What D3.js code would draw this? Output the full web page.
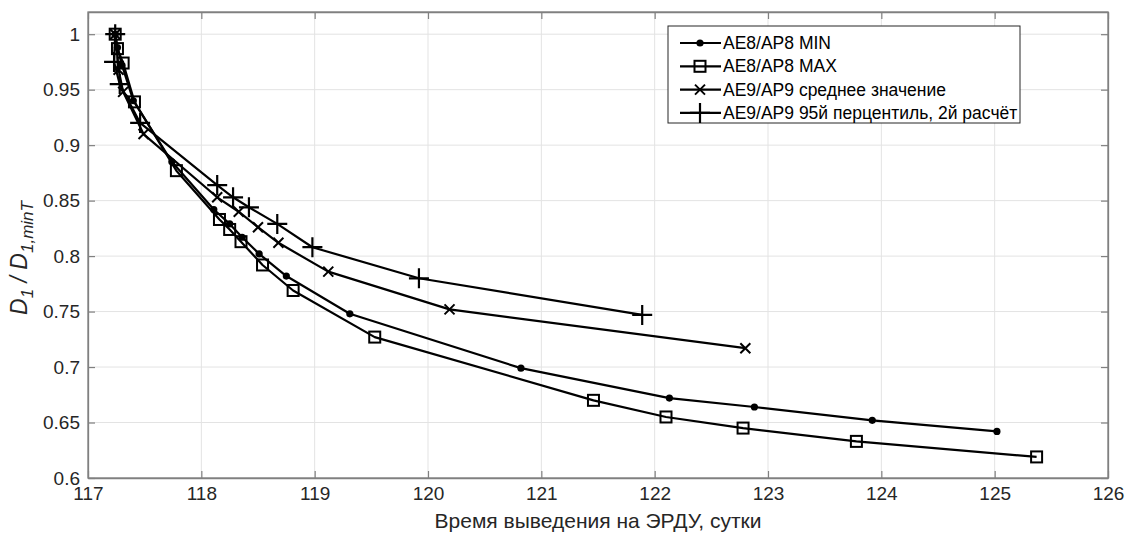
<!DOCTYPE html>
<html>
<head>
<meta charset="utf-8">
<script src="https://cdn.jsdelivr.net/npm/d3@7"></script>
<style>
  body { margin: 0; background: #fff; }
  svg { display: block; font-family: Arial, "Liberation Sans", sans-serif; }
</style>
</head>
<body>
<svg id="chart"></svg>
<script>
// series (x: days, y: D1/D1,minT)
var minX = [117.24, 117.26, 117.30, 117.40, 117.74, 118.11, 118.25, 118.36, 118.51, 118.75, 119.31, 120.82, 122.13, 122.88, 123.92, 125.02];
var minY = [1.0, 0.988, 0.972, 0.940, 0.885, 0.842, 0.829, 0.817, 0.802, 0.782, 0.748, 0.699, 0.672, 0.664, 0.652, 0.642];

var maxX = [117.24, 117.26, 117.31, 117.41, 117.78, 118.16, 118.25, 118.35, 118.54, 118.81, 119.53, 121.46, 122.10, 122.78, 123.78, 125.37];
var maxY = [1.0, 0.987, 0.974, 0.939, 0.877, 0.833, 0.824, 0.813, 0.792, 0.769, 0.727, 0.670, 0.655, 0.645, 0.633, 0.619];

var meanX = [117.24, 117.27, 117.31, 117.49, 118.14, 118.33, 118.50, 118.68, 119.12, 120.19, 122.80];
var meanY = [1.0, 0.968, 0.948, 0.910, 0.853, 0.840, 0.826, 0.812, 0.786, 0.752, 0.717];

var p95X = [117.24, 117.23, 117.28, 117.46, 118.14, 118.28, 118.42, 118.67, 118.98, 119.92, 121.89];
var p95Y = [1.0, 0.975, 0.955, 0.920, 0.864, 0.853, 0.844, 0.829, 0.808, 0.780, 0.747];

var xTicks = [117, 118, 119, 120, 121, 122, 123, 124, 125, 126];
var yTicks = [0.6, 0.65, 0.7, 0.75, 0.8, 0.85, 0.9, 0.95, 1];

var legendLabels = ["AE8/AP8 MIN", "AE8/AP8 MAX", "AE9/AP9 среднее значение", "AE9/AP9 95й перцентиль, 2й расчёт"];

var width = 1126;
var height = 536;
var plotLeft = 88, plotRight = 1108, plotTop = 12, plotBottom = 478;

var svg = d3.select("#chart").attr("width", width).attr("height", height);

var xScale = d3.scaleLinear().domain([117, 126]).range([plotLeft, plotRight]);
var yScale = d3.scaleLinear().domain([0.6, 1.02]).range([plotBottom, plotTop]);

// grid
svg.append("g")
  .selectAll("line")
  .data(xTicks.slice(1, -1))
  .enter()
  .append("line")
  .attr("x1", (d) => xScale(d)).attr("x2", (d) => xScale(d))
  .attr("y1", plotTop).attr("y2", plotBottom)
  .attr("stroke", "#e3e3e3").attr("stroke-width", 1);

svg.append("g")
  .selectAll("line")
  .data(yTicks.slice(1))
  .enter()
  .append("line")
  .attr("x1", plotLeft).attr("x2", plotRight)
  .attr("y1", (d) => yScale(d)).attr("y2", (d) => yScale(d))
  .attr("stroke", "#e3e3e3").attr("stroke-width", 1);

// axes (ticks pointing inward, like matlab)
var axisColor = "#808080";
var xAxis = d3.axisBottom(xScale).tickValues(xTicks).tickFormat(d3.format("d")).tickSizeInner(-7).tickSizeOuter(0).tickPadding(9);
var yAxis = d3.axisLeft(yScale).tickValues(yTicks).tickFormat((d) => String(d)).tickSizeInner(-7).tickSizeOuter(0).tickPadding(8);

var gx = svg.append("g").attr("transform", "translate(0," + plotBottom + ")").call(xAxis);
var gy = svg.append("g").attr("transform", "translate(" + plotLeft + ",0)").call(yAxis);
var gxTop = svg.append("g").attr("transform", "translate(0," + plotTop + ")")
  .call(d3.axisTop(xScale).tickValues(xTicks).tickFormat("").tickSizeInner(-7).tickSizeOuter(0));
var gyRight = svg.append("g").attr("transform", "translate(" + plotRight + ",0)")
  .call(d3.axisRight(yScale).tickValues(yTicks).tickFormat("").tickSizeInner(-7).tickSizeOuter(0));

[gx, gy, gxTop, gyRight].forEach((g) => {
  g.select(".domain").attr("stroke", axisColor).attr("stroke-width", 1.3);
  g.selectAll(".tick line").attr("stroke", axisColor).attr("stroke-width", 1.2);
  g.selectAll(".tick text").attr("fill", "#262626").style("font-size", "19px");
});
// close the box
svg.append("rect")
  .attr("x", plotLeft).attr("y", plotTop)
  .attr("width", plotRight - plotLeft).attr("height", plotBottom - plotTop)
  .attr("fill", "none").attr("stroke", axisColor).attr("stroke-width", 1.3);

// axis labels
svg.append("text")
  .attr("x", (plotLeft + plotRight) / 2)
  .attr("y", 528)
  .attr("text-anchor", "middle")
  .attr("fill", "#262626")
  .style("font-size", "21px")
  .text("Время выведения на ЭРДУ, сутки");

var yl = svg.append("text")
  .attr("transform", "translate(27,258) rotate(-90)")
  .attr("text-anchor", "middle")
  .attr("fill", "#262626")
  .style("font-size", "23px")
  .style("font-style", "italic");
yl.append("tspan").text("D");
yl.append("tspan").attr("dy", 6).style("font-size", "17px").text("1");
yl.append("tspan").attr("dy", -6).text(" / D");
yl.append("tspan").attr("dy", 6).style("font-size", "17px").text("1,minT");

// series
var line = d3.line().x((d) => xScale(d[0])).y((d) => yScale(d[1]));

var series = [
  { xs: minX, ys: minY, marker: "dot" },
  { xs: maxX, ys: maxY, marker: "square" },
  { xs: meanX, ys: meanY, marker: "cross" },
  { xs: p95X, ys: p95Y, marker: "plus" }
];

var drawMarker = (g, type, x, y) => {
  if (type == "dot") {
    g.append("circle").attr("cx", x).attr("cy", y).attr("r", 3.6).attr("fill", "#000");
  } else if (type == "square") {
    g.append("rect").attr("x", x - 5.5).attr("y", y - 5.5).attr("width", 11).attr("height", 11)
      .attr("fill", "none").attr("stroke", "#000").attr("stroke-width", 2);
  } else if (type == "cross") {
    var s = 5;
    g.append("path").attr("d", "M" + (x - s) + "," + (y - s) + "L" + (x + s) + "," + (y + s) + "M" + (x - s) + "," + (y + s) + "L" + (x + s) + "," + (y - s))
      .attr("stroke", "#000").attr("stroke-width", 2);
  } else {
    var p = 10;
    g.append("path").attr("d", "M" + (x - p) + "," + y + "L" + (x + p) + "," + y + "M" + x + "," + (y - p) + "L" + x + "," + (y + p))
      .attr("stroke", "#000").attr("stroke-width", 2.2);
  }
};

series.forEach((s) => {
  var pts = s.xs.map((x, i) => [x, s.ys[i]]);
  var g = svg.append("g");
  g.append("path").datum(pts).attr("d", line)
    .attr("fill", "none").attr("stroke", "#000").attr("stroke-width", 2.2).attr("stroke-linejoin", "round");
  pts.forEach((d) => drawMarker(g, s.marker, xScale(d[0]), yScale(d[1])));
});

// legend
var lg = svg.append("g");
lg.append("rect")
  .attr("x", 668).attr("y", 26).attr("width", 352).attr("height", 97)
  .attr("fill", "#fff").attr("stroke", "#262626").attr("stroke-width", 1);

legendLabels.forEach((label, i) => {
  var y = 43 + i * 23.3;
  lg.append("line").attr("x1", 680).attr("x2", 721).attr("y1", y).attr("y2", y)
    .attr("stroke", "#000").attr("stroke-width", 2.2);
  drawMarker(lg, series[i].marker, 700, y);
  lg.append("text").attr("x", 723).attr("y", y + 6)
    .attr("fill", "#000").style("font-size", "17.5px").text(label);
});
</script>
</body>
</html>
